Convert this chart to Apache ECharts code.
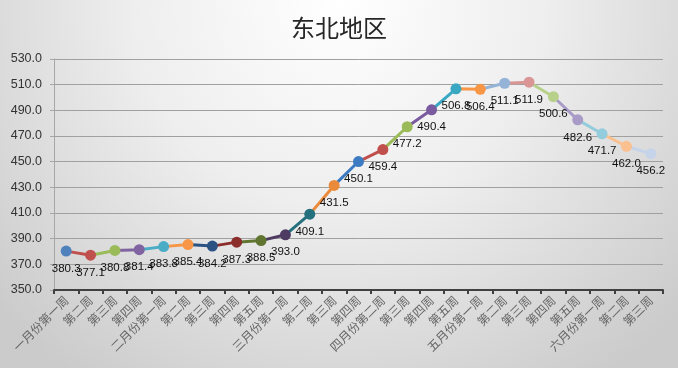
<!DOCTYPE html>
<html>
<head>
<meta charset="utf-8">
<script src="https://cdn.jsdelivr.net/npm/echarts@6/dist/echarts.min.js"></script>
<style>
html,body{margin:0;padding:0;}
#chart{width:678px;height:368px;}
</style>
</head>
<body>
<div id="chart"></div>
<script>
const categories = ['一月份第一周','第二周','第三周','第四周','二月份第一周','第二周','第三周','第四周','第五周','三月份第一周','第二周','第三周','第四周','四月份第二周','第三周','第四周','第五周','五月份第一周','第二周','第三周','第四周','第五周','六月份第一周','第二周','第三周'];
const values = [380.3,377.1,380.8,381.4,383.8,385.4,384.2,387.3,388.5,393.0,409.1,431.5,450.1,459.4,477.2,490.4,506.8,506.4,511.1,511.9,500.6,482.6,471.7,462.0,456.2];
const pointColors = ['#4F81BD','#C0504D','#9BBB59','#8064A2','#4BACC6','#F79646','#2A5282','#8B2D2B','#5F7530','#4D3B62','#25707F','#E98B3A','#3C7AC2','#C0504D','#9BBB59','#7A5BA0','#3AA8C2','#F79646','#95B3D7','#D99694','#B7D08A','#A99BC8','#93CDDD','#FAC090','#C6D4EA'];
const titleText = '东北地区';

const pieces = pointColors.map((c, i) => i === 0 ? {lte: 0, color: c} : {gt: i - 1, lte: i, color: c});

const chart = echarts.init(document.getElementById('chart'));
chart.setOption({
  backgroundColor: {
    type: 'radial', x: 0.5, y: 0, r: 1.25,
    colorStops: [
      {offset: 0, color: '#FFFFFF'},
      {offset: 0.45, color: '#EEEEEE'},
      {offset: 1, color: '#CBCBCB'}
    ]
  },
  animation: false,
  title: {
    text: titleText,
    left: 'center',
    top: 11,
    textStyle: {fontFamily: '"Noto Sans CJK SC"', fontSize: 24, fontWeight: 'normal', color: '#262626'}
  },
  grid: {left: 54, right: 15, top: 59, bottom: 78, containLabel: false},
  visualMap: {
    type: 'piecewise', show: false, dimension: 0, seriesIndex: 0,
    pieces: pieces
  },
  xAxis: {
    type: 'category',
    data: categories,
    boundaryGap: true,
    axisLine: {lineStyle: {color: '#404040', width: 2}},
    axisTick: {show: true, length: 4, lineStyle: {color: '#404040', width: 2}},
    axisLabel: {
      interval: 0, rotate: 45, margin: 8,
      fontFamily: '"Noto Sans CJK SC"', fontSize: 12, color: '#666666'
    }
  },
  yAxis: {
    type: 'value',
    min: 350, max: 530, interval: 20,
    axisLine: {show: true, lineStyle: {color: '#A6A6A6', width: 1}},
    axisTick: {show: true, length: 4, lineStyle: {color: '#A6A6A6'}},
    axisLabel: {
      formatter: v => v.toFixed(1),
      fontFamily: '"Liberation Sans"', fontSize: 12.5, color: '#333333', margin: 12
    },
    splitLine: {lineStyle: {color: '#A0A0A0', width: 1}}
  },
  series: [{
    type: 'line',
    data: values,
    symbol: 'circle',
    symbolSize: 11,
    lineStyle: {width: 3},
    label: {
      show: true, position: 'bottom', distance: 6,
      formatter: p => p.value.toFixed(1),
      fontFamily: '"Liberation Sans"', fontSize: 11.5, color: '#111111'
    }
  }]
});
</script>
</body>
</html>
